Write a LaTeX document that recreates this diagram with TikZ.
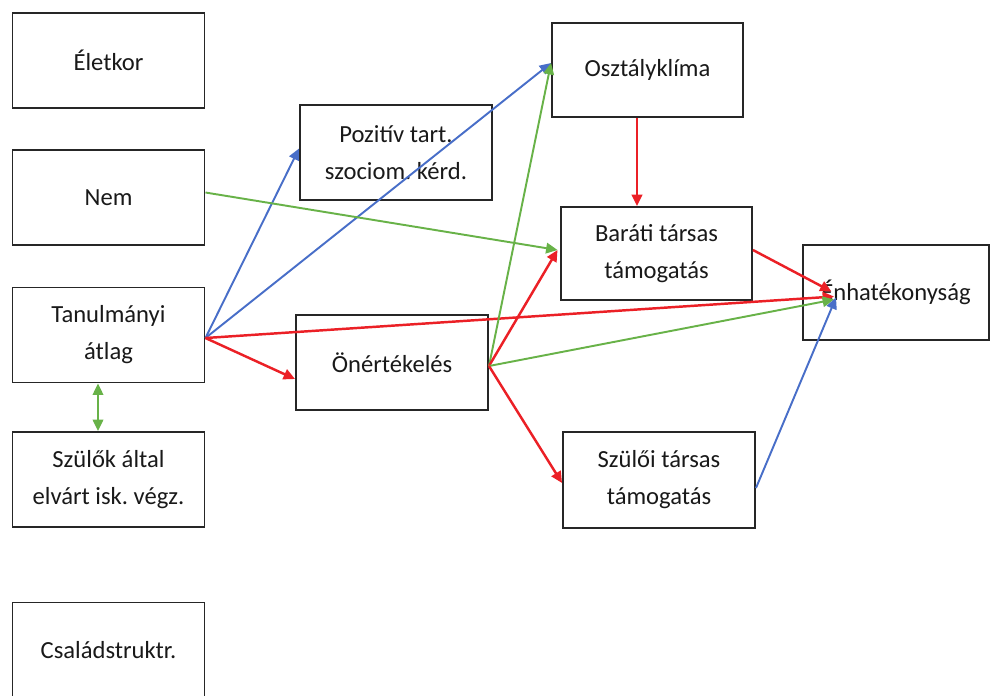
\documentclass[tikz,border=0pt]{standalone}
\usepackage{fontspec}
\setmainfont{Carlito}
\usepackage{tikz}
\usetikzlibrary{calc}
\usetikzlibrary{arrows.meta}
\definecolor{arrBlue}{RGB}{72,110,200}
\definecolor{arrRed}{RGB}{235,32,38}
\definecolor{arrGreen}{RGB}{104,178,72}
\frenchspacing

\begin{document}
\begin{tikzpicture}[
  box/.style={draw=black!85, line width=1.1pt, rectangle, align=center,
    minimum width=3.84cm, minimum height=1.9cm, inner sep=2pt,
    text=black!90, font=\fontsize{14}{21}\selectfont},
  arr/.style={line width=1.1pt, -{Triangle[length=6.5pt,width=6pt]}},
  blu/.style={arr, arrBlue},
  rd/.style={arr, arrRed, line width=1.4pt},
  grn/.style={arr, arrGreen},
]
\useasboundingbox (0,0) rectangle (19.8,-13.9);

% left column
\node (elet)   [box] at (2.17,-1.21) {Életkor};
\node (nem)    [box] at (2.17,-3.95) {Nem};
\node (atlag)  [box] at (2.17,-6.70) {Tanulmányi\\átlag};
\node (szulok) [box] at (2.17,-9.59) {Szülők által\\elvárt isk. végz.};
\node (csalad) [box] at (2.17,-13.0) {Családstruktr.};

% middle and right
\node (pozitiv) [box] at (7.92,-3.05)  {Pozitív tart.\\szociom. kérd.};
\node (oner)    [box] at (7.84,-7.25)  {Önértékelés};
\node (osztaly) [box, minimum width=3.82cm, minimum height=1.88cm] at (12.95,-1.40) {Osztályklíma};
\node (barati)  [box, minimum width=3.82cm, minimum height=1.86cm] at (13.13,-5.07) {Baráti társas\\támogatás};
\node (szuloi)  [box, minimum height=1.92cm] at (13.18,-9.60) {Szülői társas\\támogatás};
\node (enhat)   [box, minimum width=3.72cm] at (17.92,-5.85) {Énhatékonyság};

\coordinate (aS) at ([yshift=-0.06cm]atlag.east);
\coordinate (oS) at ([yshift=-0.07cm]oner.east);
\coordinate (eT) at ([xshift=0.64cm,yshift=-0.08cm]enhat.west);

\draw[blu] (aS) -- ([yshift=0.08cm]pozitiv.west);
\draw[blu] (aS) -- ([yshift=0.14cm]osztaly.west);
\draw[rd]  (aS) -- ([yshift=-0.33cm]oner.west);
\draw[rd]  (aS) -- (eT);

\draw[grn] ([yshift=0.1cm]nem.east) -- ([xshift=-0.05cm,yshift=0.07cm]barati.west);

\draw[grn] (oS) -- ([yshift=0.14cm]osztaly.west);
\draw[rd]  (oS) -- ([xshift=-0.05cm,yshift=0.07cm]barati.west);
\draw[grn] (oS) -- ([yshift=-0.06cm]eT);
\draw[rd]  (oS) -- ([yshift=-0.06cm]szuloi.west);

\draw[rd]  ([xshift=-0.21cm]osztaly.south) -- ([xshift=-0.21cm]osztaly.south |- barati.north);
\draw[rd]  ([yshift=0.07cm]barati.east) -- ([xshift=-0.05cm,yshift=0.1cm]eT);
\draw[blu] ([yshift=-0.16cm]szuloi.east) -- ([xshift=0.04cm,yshift=-0.02cm]eT);

\draw[grn, {Triangle[length=6.5pt,width=6pt]}-{Triangle[length=6.5pt,width=6pt]}]
  ([xshift=-0.21cm]atlag.south) -- ([xshift=-0.21cm]szulok.north);

\end{tikzpicture}
\end{document}
